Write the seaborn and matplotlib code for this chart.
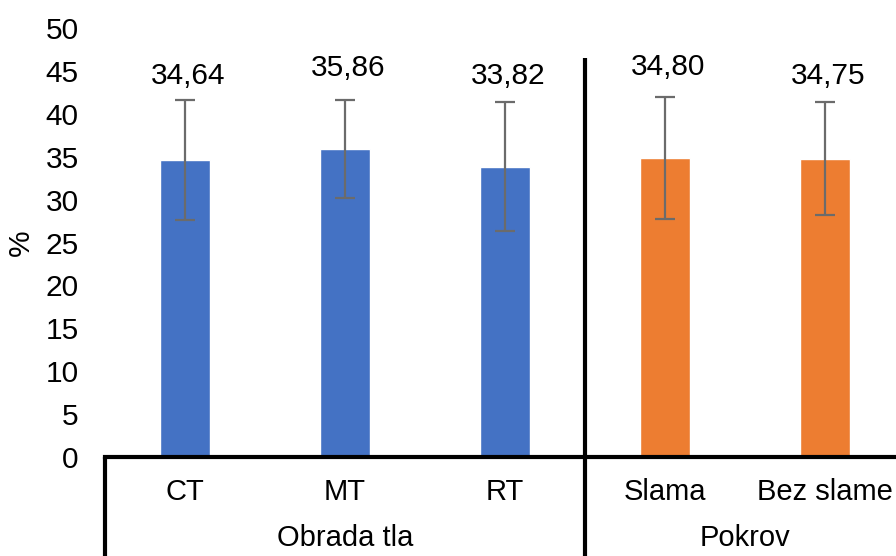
import matplotlib
matplotlib.use("Agg")
import matplotlib.pyplot as plt
import matplotlib.transforms as mtransforms
import seaborn as sns
import pandas as pd

categories = ["CT", "MT", "RT", "Slama", "Bez slame"]
groups = ["Obrada tla", "Obrada tla", "Obrada tla", "Pokrov", "Pokrov"]
values = [34.64, 35.86, 33.82, 34.80, 34.75]
errors = [7.0, 5.7, 7.5, 7.1, 6.6]
group_names = ["Obrada tla", "Pokrov"]
yticks = [0, 5, 10, 15, 20, 25, 30, 35, 40, 45, 50]

# layout only: label heights (data units) as placed in the reference
label_y = [44.4, 45.3, 44.4, 45.5, 44.4]

sns.set_theme(style="white")
plt.rcParams["font.family"] = ["Liberation Sans", "DejaVu Sans"]
plt.rcParams["text.color"] = "black"
plt.rcParams["xtick.color"] = "black"
plt.rcParams["ytick.color"] = "black"
plt.rcParams["axes.labelcolor"] = "black"

FS = 21.5

df = pd.DataFrame({"cat": categories, "grp": groups, "val": values})

fig = plt.figure(figsize=(8.96, 5.56), dpi=100)
ax = fig.add_axes([105 / 896, 99 / 556, 800 / 896, 429 / 556])

sns.barplot(data=df, x="cat", y="val", hue="grp", order=categories,
            hue_order=group_names, palette=["#4472C4", "#ED7D31"],
            saturation=1, dodge=False, width=0.31, errorbar=None,
            legend=False, ax=ax)

xs = list(range(len(categories)))
ax.errorbar(xs, values, yerr=errors, fmt="none", ecolor="#6b6b6b",
            elinewidth=1.6, capsize=7, capthick=1.6, zorder=3)

for x, v, ly in zip(xs, values, label_y):
    ax.text(x + 0.02, ly, f"{v:.2f}".replace(".", ","), ha="center",
            va="center", fontsize=FS, color="black")

ax.set_xlim(-0.5, 4.5)
ax.set_ylim(0, 50)
ax.set_yticks(yticks)
ax.set_yticklabels([str(t) for t in yticks], fontsize=FS)
ax.tick_params(axis="y", length=0, pad=19)
ax.tick_params(axis="x", length=0, pad=15, labelsize=21)
ax.set_xlabel("")
ax.set_ylabel("%", fontsize=FS)
ax.yaxis.set_label_coords(-0.0875, 0.5)

for s in ["left", "right", "top"]:
    ax.spines[s].set_visible(False)
ax.spines["bottom"].set_linewidth(3)
ax.spines["bottom"].set_color("black")

trans = mtransforms.blended_transform_factory(ax.transData, ax.transAxes)
ax.plot([-0.5, -0.5], [0, -0.4], transform=trans, color="black", lw=3,
        clip_on=False, solid_capstyle="butt")
top_frac = 46.5 / 50
ax.plot([2.5, 2.5], [top_frac, -0.4], transform=trans, color="black", lw=3,
        clip_on=False, solid_capstyle="butt")

ax.text(1, -0.188, group_names[0], transform=trans, ha="center", va="center",
        fontsize=21)
ax.text(3.5, -0.188, group_names[1], transform=trans, ha="center", va="center",
        fontsize=21)

fig.savefig("out.png", dpi=100)
